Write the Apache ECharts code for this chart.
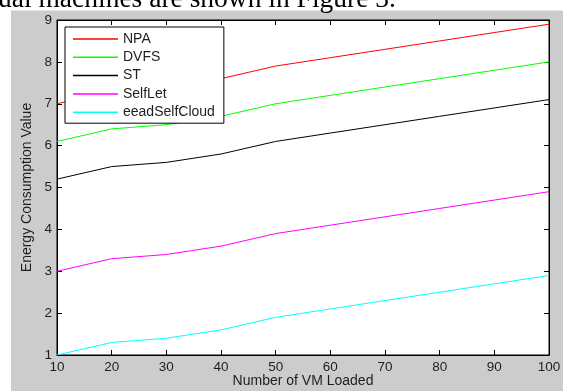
<!DOCTYPE html>
<html>
<head>
<meta charset="utf-8">
<script src="https://cdn.jsdelivr.net/npm/echarts@6/dist/echarts.min.js"></script>
<style>
html,body{margin:0;padding:0;background:#fff;}
#c{width:563px;height:391px;}
</style>
</head>
<body>
<div id="c"></div>
<script>
var xValues = [10, 20, 30, 40, 50, 60, 70, 80, 90, 100];
var npa = [7.0, 7.3, 7.4, 7.6, 7.9, 8.1, 8.3, 8.5, 8.7, 8.9];
var dvfs = [6.1, 6.4, 6.5, 6.7, 7.0, 7.2, 7.4, 7.6, 7.8, 8.0];
var st = [5.2, 5.5, 5.6, 5.8, 6.1, 6.3, 6.5, 6.7, 6.9, 7.1];
var selfLet = [3.0, 3.3, 3.4, 3.6, 3.9, 4.1, 4.3, 4.5, 4.7, 4.9];
var eead = [1.0, 1.3, 1.4, 1.6, 1.9, 2.1, 2.3, 2.5, 2.7, 2.9];
var seriesNames = ['NPA', 'DVFS', 'ST', 'SelfLet', 'eeadSelfCloud'];
var seriesColors = ['#ff0000', '#00ff00', '#000000', '#ff00ff', '#00ffff'];
var seriesData = [npa, dvfs, st, selfLet, eead];
var captionText = 'ual machines are shown in Figure 3.';

function pairs(ys) { return xValues.map(function (x, i) { return [x, ys[i]]; }); }

var txt = '#1e1e1e';
var font = 'Arial, "Liberation Sans", sans-serif';
var chart = echarts.init(document.getElementById('c'), null, {renderer: 'canvas'});

var series = seriesNames.map(function (n, i) {
  return {
    name: n, type: 'line', data: pairs(seriesData[i]),
    xAxisIndex: 0, yAxisIndex: 0,
    symbol: 'none', lineStyle: {color: seriesColors[i], width: 1},
    itemStyle: {color: seriesColors[i]}, animation: false, z: 3
  };
});

chart.setOption({
  animation: false,
  backgroundColor: '#ffffff',
  graphic: [
    {type: 'rect', shape: {x: 11, y: 10.5, width: 560, height: 390}, style: {fill: '#cccccc'}, z: -10, silent: true},
    {type: 'text', x: -2, y: -0.5, z: 10, style: {text: captionText, fontFamily: '"Liberation Serif", "Times New Roman", serif', fontSize: 27.5, fill: '#000', verticalAlign: 'middle', align: 'left'}}
  ],
  grid: {left: 57, right: 14, top: 20, bottom: 36, show: true, backgroundColor: '#ffffff', borderColor: '#000', borderWidth: 1, containLabel: false, outerBoundsMode: 'none'},
  legend: {
    left: 65, top: 27, orient: 'vertical',
    data: seriesNames.map(function (n, i) { return {name: n, icon: 'rect', itemStyle: {color: seriesColors[i]}}; }),
    itemWidth: 45, itemHeight: 1.5, itemGap: 4.3,
    padding: [5, 9, 4, 8],
    backgroundColor: '#ffffff', borderColor: '#000', borderWidth: 1, borderRadius: 0,
    textStyle: {color: txt, fontSize: 14, fontFamily: font, lineHeight: 14},
    selectedMode: false
  },
  xAxis: [
    {type: 'value', min: 10, max: 100, interval: 10, position: 'bottom',
     name: 'Number of VM Loaded', nameLocation: 'middle', nameGap: 19, nameMoveOverlap: false,
     nameTextStyle: {color: txt, fontSize: 14, fontFamily: font},
     axisLine: {show: true, onZero: false, lineStyle: {color: '#000', width: 1}},
     axisTick: {show: true, inside: true, length: 5, lineStyle: {color: '#000'}},
     axisLabel: {color: txt, fontSize: 13.5, fontFamily: font, margin: 5},
     splitLine: {show: false}},
    {type: 'value', min: 10, max: 100, interval: 10, position: 'top',
     axisLine: {show: true, onZero: false, lineStyle: {color: '#000', width: 1}},
     axisTick: {show: true, inside: true, length: 5, lineStyle: {color: '#000'}},
     axisLabel: {show: false}, splitLine: {show: false}}
  ],
  yAxis: [
    {type: 'value', min: 1, max: 9, interval: 1, position: 'left',
     name: 'Energy Consumption Value', nameLocation: 'middle', nameGap: 23, nameMoveOverlap: false,
     nameTextStyle: {color: txt, fontSize: 14, fontFamily: font},
     axisLine: {show: true, onZero: false, lineStyle: {color: '#000', width: 1}},
     axisTick: {show: true, inside: true, length: 5, lineStyle: {color: '#000'}},
     axisLabel: {color: txt, fontSize: 13.5, fontFamily: font, margin: 5},
     splitLine: {show: false}},
    {type: 'value', min: 1, max: 9, interval: 1, position: 'right',
     axisLine: {show: true, onZero: false, lineStyle: {color: '#000', width: 1}},
     axisTick: {show: true, inside: true, length: 5, lineStyle: {color: '#000'}},
     axisLabel: {show: false}, splitLine: {show: false}}
  ],
  series: series
});
</script>
</body>
</html>
